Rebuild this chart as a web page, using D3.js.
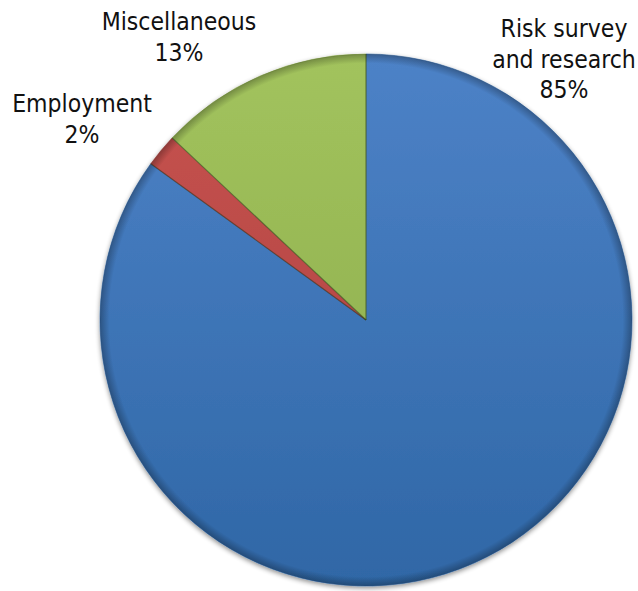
<!DOCTYPE html>
<html>
<head>
<meta charset="utf-8">
<script src="https://cdn.jsdelivr.net/npm/d3@7/dist/d3.min.js"></script>
<style>
  html, body { margin: 0; padding: 0; background: #fff; }
  svg { display: block; }
  text { font-family: "DejaVu Sans Condensed", "DejaVu Sans", sans-serif; fill: #111; }
</style>
</head>
<body>
<script>
// Spending breakdown (percent of total)
const categories = ["Risk survey\nand research", "Employment", "Miscellaneous"];
const values = [85, 2, 13];
const colors = ["#4a7dbf", "#c0504d", "#9bbb59"];
const darkColors = ["#2f67a6", "#a8403d", "#89a94a"];

const width = 638, height = 591;
const cx = 366, cy = 320, radius = 266;

// label anchor points (centre of the first text line baseline), in page pixels
const labelAnchors = [
  { x: 564, y: 37 },
  { x: 82, y: 112 },
  { x: 179, y: 30 }
];
const lineHeight = 30.5;

const svg = d3.select("body").append("svg")
  .attr("width", width).attr("height", height);

const defs = svg.append("defs");

// soft drop shadow beneath the pie
const shadow = defs.append("filter").attr("id", "shadow")
  .attr("x", "-10%").attr("y", "-10%").attr("width", "120%").attr("height", "120%");
shadow.append("feGaussianBlur").attr("in", "SourceAlpha").attr("stdDeviation", 2.5).attr("result", "blur");
shadow.append("feOffset").attr("in", "blur").attr("dx", 0).attr("dy", 2).attr("result", "off");
shadow.append("feComponentTransfer").attr("in", "off").attr("result", "soft")
  .append("feFuncA").attr("type", "linear").attr("slope", 0.45);
const merge = shadow.append("feMerge");
merge.append("feMergeNode").attr("in", "soft");
merge.append("feMergeNode").attr("in", "SourceGraphic");

// vertical shading for each slice
colors.forEach((c, i) => {
  const g = defs.append("linearGradient").attr("id", "grad" + i)
    .attr("gradientUnits", "userSpaceOnUse")
    .attr("x1", 0).attr("y1", -radius).attr("x2", 0).attr("y2", radius);
  g.append("stop").attr("offset", "0%").attr("stop-color", d3.color(c).brighter(0.12));
  g.append("stop").attr("offset", "100%").attr("stop-color", darkColors[i]);
});

// rim darkening for a slight bevel look
const rim = defs.append("radialGradient").attr("id", "rim")
  .attr("gradientUnits", "userSpaceOnUse")
  .attr("cx", 0).attr("cy", 0).attr("r", radius);
rim.append("stop").attr("offset", "0.965").attr("stop-color", "#000").attr("stop-opacity", 0);
rim.append("stop").attr("offset", "1").attr("stop-color", "#000").attr("stop-opacity", 0.28);

const pie = d3.pie().sort(null).value(d => d)
  .startAngle(0).endAngle(2 * Math.PI);
const arcs = pie(values);
const arc = d3.arc().innerRadius(0).outerRadius(radius);

const g = svg.append("g").attr("transform", `translate(${cx},${cy})`);

const slices = g.append("g").attr("filter", "url(#shadow)");
slices.selectAll("path.slice")
  .data(arcs)
  .join("path")
  .attr("class", "slice")
  .attr("d", arc)
  .attr("fill", (d, i) => `url(#grad${i})`)
  .attr("stroke", (d, i) => darkColors[i])
  .attr("stroke-width", 0.6);

g.append("circle").attr("r", radius).attr("fill", "url(#rim)").attr("pointer-events", "none");

// thin dark seams along the slice edges
g.selectAll("path.seam")
  .data(arcs)
  .join("path")
  .attr("class", "seam")
  .attr("d", d => {
    const a = d.startAngle;
    return `M0,0L${radius * Math.sin(a)},${-radius * Math.cos(a)}`;
  })
  .attr("stroke", "rgba(30,50,20,0.45)")
  .attr("stroke-width", 1.2);

// category labels with percentages
const total = d3.sum(values);
const labels = svg.append("g").attr("font-size", 24.5).attr("text-anchor", "middle");
arcs.forEach((d, i) => {
  const lines = categories[i].split("\n").concat([Math.round(d.value / total * 100) + "%"]);
  const t = labels.append("text")
    .attr("x", labelAnchors[i].x).attr("y", labelAnchors[i].y);
  lines.forEach((ln, k) => {
    t.append("tspan").attr("x", labelAnchors[i].x)
      .attr("dy", k === 0 ? 0 : lineHeight).text(ln);
  });
});
</script>
</body>
</html>
